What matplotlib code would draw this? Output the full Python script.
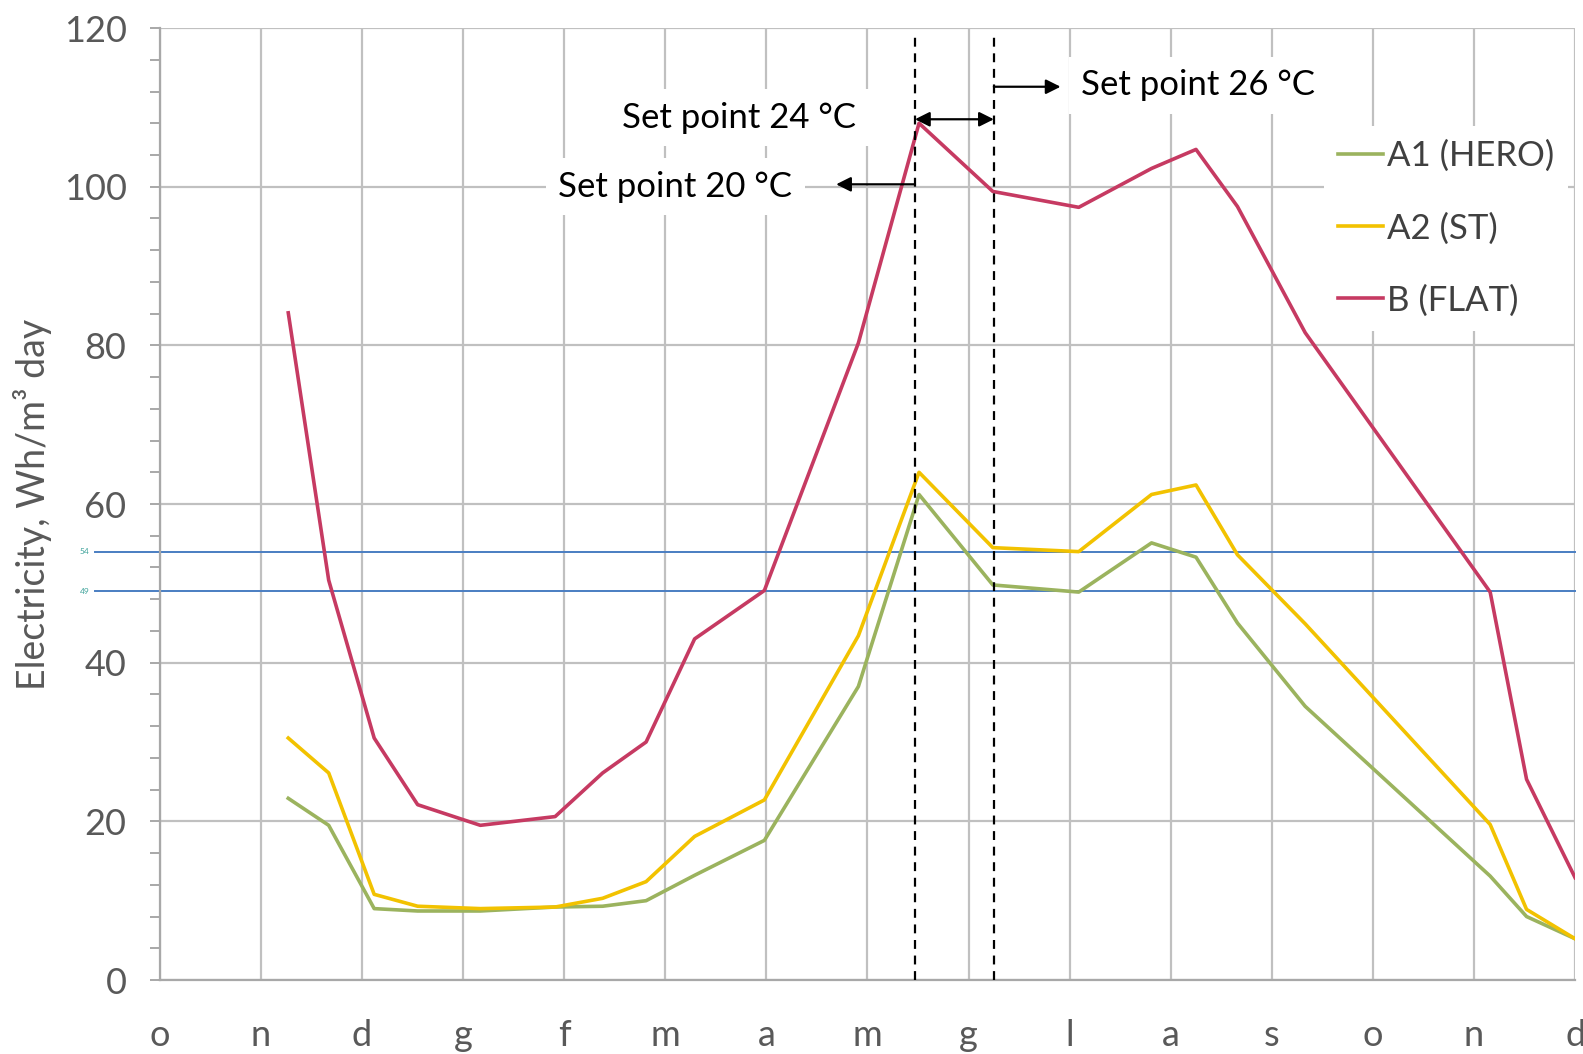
import matplotlib
matplotlib.use("Agg")
import matplotlib.pyplot as plt
from matplotlib.ticker import MultipleLocator
import matplotlib.transforms as mtransforms

plt.rcParams['font.family'] = ['Lato', 'DejaVu Sans']

# month labels along the x axis (one gridline each)
months = ['o', 'n', 'd', 'g', 'f', 'm', 'a', 'm', 'g', 'l', 'a', 's', 'o', 'n', 'd']

# sample positions (in month units) shared by all series
x = [1.27, 1.67, 2.12, 2.55, 3.17, 3.91, 4.38, 4.81, 5.29, 5.98, 6.91,
     7.51, 8.24, 9.09, 9.81, 10.25, 10.66, 11.33, 13.16, 13.52, 14.0]

a1_hero = [22.9, 19.5, 9.0, 8.7, 8.7, 9.2, 9.3, 10.0, 13.2, 17.6, 37.0,
           61.2, 49.8, 48.9, 55.1, 53.3, 45.0, 34.5, 13.1, 8.0, 5.2]
a2_st = [30.5, 26.1, 10.8, 9.3, 9.0, 9.2, 10.3, 12.4, 18.1, 22.7, 43.4,
         64.0, 54.5, 54.0, 61.2, 62.4, 53.6, 44.9, 19.6, 8.9, 5.2]
b_flat = [84.1, 50.4, 30.5, 22.1, 19.5, 20.6, 26.1, 30.0, 43.0, 49.1, 80.3,
          108.0, 99.4, 97.4, 102.3, 104.7, 97.5, 81.6, 48.9, 25.3, 12.9]

ref_levels = [54, 49]
setpoint_x = [7.47, 8.25]

fig = plt.figure(figsize=(15.83, 10.54), dpi=100)
ax = fig.add_axes([0.101, 0.0702, 0.894, 0.9032])

grid_col = '#C0C0C0'
ax.set_xlim(0, 14)
ax.set_ylim(0, 120)
ax.set_xticks(range(len(months)))
ax.set_xticklabels(months)
ax.yaxis.set_major_locator(MultipleLocator(20))
ax.yaxis.set_minor_locator(MultipleLocator(4))
ax.grid(True, which='major', color=grid_col, lw=1.6, zorder=0)
ax.set_axisbelow(True)
for s in ['top', 'right']:
    ax.spines[s].set_visible(False)
for s in ['left', 'bottom']:
    ax.spines[s].set_color('#A8A8A8')
    ax.spines[s].set_linewidth(1.6)
ax.tick_params(axis='x', length=0, pad=28, labelsize=26, labelcolor='#595959')
ax.tick_params(axis='y', which='both', direction='out', color='#A8A8A8',
               width=1.4, labelsize=26, labelcolor='#595959')
ax.tick_params(axis='y', which='major', length=7, pad=17)
ax.tick_params(axis='y', which='minor', length=7)
ax.set_ylabel('Electricity, Wh/m³ day', fontsize=27, color='#595959', labelpad=8)

ax.plot(x, a1_hero, color='#9BB35E', lw=2.6, label='A1 (HERO)', zorder=3)
ax.plot(x, a2_st, color='#F2C200', lw=2.6, label='A2 (ST)', zorder=4)
ax.plot(x, b_flat, color='#C63A62', lw=2.6, label='B (FLAT)', zorder=3)

# reference levels, drawn slightly past the left axis
trans = mtransforms.blended_transform_factory(ax.transAxes, ax.transData)
for lvl in ref_levels:
    ax.plot([-0.046, 1.0], [lvl, lvl], color='#4A7EC2', lw=1.4,
            transform=trans, clip_on=False, zorder=2)
    ax.text(-0.05, lvl, str(lvl), transform=trans, fontsize=6,
            color='#3FA39B', ha='right', va='center')

for xv in setpoint_x:
    ax.plot([xv, xv], [0, 119.5], color='black', lw=1.6, ls=(0, (4, 3)), zorder=5)

box = dict(facecolor='white', edgecolor='none', pad=9)
ax.text(5.73, 108.7, 'Set point 24 °C', fontsize=25, ha='center', va='center',
        bbox=box, zorder=6)
ax.text(5.10, 100.0, 'Set point 20 °C', fontsize=25, ha='center', va='center',
        bbox=box, zorder=6)
ax.text(10.27, 112.8, 'Set point 26 °C', fontsize=25, ha='center', va='center',
        bbox=box, zorder=6)

arr = dict(arrowstyle='-|>', color='black', lw=1.6, mutation_scale=22,
           shrinkA=0, shrinkB=0)
ax.annotate('', xy=(setpoint_x[0], 108.5), xytext=(setpoint_x[1], 108.5),
            arrowprops=dict(arr, arrowstyle='<|-|>'), zorder=7)
ax.annotate('', xy=(6.69, 100.3), xytext=(setpoint_x[0], 100.3),
            arrowprops=arr, zorder=7)
ax.annotate('', xy=(8.91, 112.6), xytext=(setpoint_x[1], 112.6),
            arrowprops=arr, zorder=7)

leg = ax.legend(loc='upper right', bbox_to_anchor=(0.995, 0.897),
                borderaxespad=0, fontsize=25, frameon=True, fancybox=False,
                handlelength=1.3, handletextpad=0.1, labelspacing=1.15,
                borderpad=0.4)
leg.get_frame().set_facecolor('white')
leg.get_frame().set_edgecolor('none')
leg.get_frame().set_alpha(1)
for t in leg.get_texts():
    t.set_color('#404040')
leg.set_zorder(8)

fig.savefig('out.png', dpi=100)
